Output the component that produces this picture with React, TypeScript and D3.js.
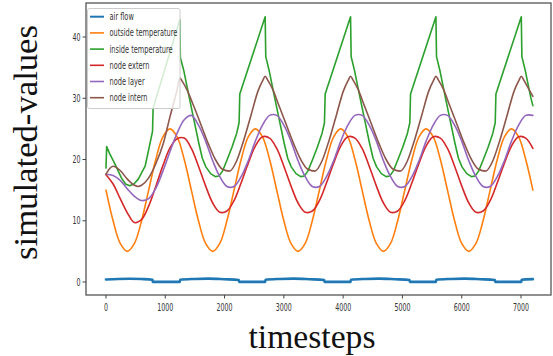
import React from "react";
import * as d3 from "d3";

const W = 553;
const H = 356;

const seriesNames = ["air flow", "outside temperature", "inside temperature", "node extern", "node layer", "node intern"];
const seriesColors = ["#1f77b4", "#ff7f0e", "#2ca02c", "#d62728", "#9467bd", "#8c564b"];

const xTicks = [0, 1000, 2000, 3000, 4000, 5000, 6000, 7000];
const yTicks = [0, 10, 20, 30, 40];

// regular grid for the smooth series (every 120 timesteps)
const gridT = d3.range(0, 7201, 120);

const outsideTemp = [
  15, 10, 6.3, 5, 6.3, 10, 15, 20, 23.7, 25, 23.7, 20,
  15, 10, 6.3, 5, 6.3, 10, 15, 20, 23.7, 25, 23.7, 20,
  15, 10, 6.3, 5, 6.3, 10, 15, 20, 23.7, 25, 23.7, 20,
  15, 10, 6.3, 5, 6.3, 10, 15, 20, 23.7, 25, 23.7, 20,
  15, 10, 6.3, 5, 6.3, 10, 15, 20, 23.7, 25, 23.7, 20,
  15,
];

const nodeExtern = [
  17.5, 16.0, 13.6, 11.3, 9.7, 10.2, 12.4, 15.6, 19.0, 21.9, 23.4,
  23.5, 21.8, 18.9, 15.7, 12.9, 11.4, 11.6, 13.3, 16.2, 19.4, 22.2, 23.7,
  23.5, 21.8, 18.9, 15.7, 12.9, 11.4, 11.6, 13.3, 16.2, 19.4, 22.2, 23.7,
  23.5, 21.8, 18.9, 15.7, 12.9, 11.4, 11.6, 13.3, 16.2, 19.4, 22.2, 23.7,
  23.5, 21.8, 18.9, 15.7, 12.9, 11.4, 11.6, 13.3, 16.2, 19.4, 22.2, 23.7,
  23.5, 21.8,
];

const nodeLayer = [
  17.6, 17.4, 16.6, 15.2, 14.0, 13.3, 13.6, 15.3, 18.1, 21.3, 24.3, 26.5,
  27.2, 25.6, 23.0, 19.8, 17.2, 15.6, 15.6, 17.2, 19.8, 23.0, 25.6, 27.2,
  27.2, 25.6, 23.0, 19.8, 17.2, 15.6, 15.6, 17.2, 19.8, 23.0, 25.6, 27.2,
  27.2, 25.6, 23.0, 19.8, 17.2, 15.6, 15.6, 17.2, 19.8, 23.0, 25.6, 27.2,
  27.2, 25.6, 23.0, 19.8, 17.2, 15.6, 15.6, 17.2, 19.8, 23.0, 25.6, 27.2,
  27.2,
];

const nodeInternT = [
  0, 60, 120, 240, 360, 480, 540, 600, 720, 840, 960, 1080, 1200,
  1245, 1285, 1365, 1485, 1605, 1725, 1845, 1965, 2085, 2205, 2325, 2445, 2565, 2645,
  2685, 2725, 2805, 2925, 3045, 3165, 3285, 3405, 3525, 3645, 3765, 3885, 4005, 4085,
  4125, 4165, 4245, 4365, 4485, 4605, 4725, 4845, 4965, 5085, 5205, 5325, 5445, 5525,
  5565, 5605, 5685, 5805, 5925, 6045, 6165, 6285, 6405, 6525, 6645, 6765, 6885, 6965,
  7005, 7045, 7125, 7200,
];
const nodeInternV = [
  17.6, 18.5, 18.9, 18.2, 16.8, 15.8, 15.6, 15.8, 17.0, 19.3, 22.4, 27.0, 31.4,
  33.3, 32.8, 31.4, 28.6, 25.6, 22.6, 20.0, 18.4, 18.1, 19.8, 23.2, 27.2, 31.2, 32.9,
  33.6, 33.0, 31.6, 28.6, 25.6, 22.6, 20.0, 18.4, 18.1, 19.8, 23.2, 27.2, 31.2, 32.9,
  33.6, 33.0, 31.6, 28.6, 25.6, 22.6, 20.0, 18.4, 18.1, 19.8, 23.2, 27.2, 31.2, 32.9,
  33.6, 33.0, 31.6, 28.6, 25.6, 22.6, 20.0, 18.4, 18.1, 19.8, 23.2, 27.2, 31.2, 32.9,
  33.6, 33.0, 31.6, 30.3,
];

const insideTempT = [
  0, 12, 60, 150, 260, 330, 400, 470, 545, 660, 740, 785, 795,
  1245, 1255, 1315, 1405, 1485, 1565, 1625, 1685, 1765, 1845, 1905, 1965, 2045, 2125, 2205, 2245, 2257,
  2685, 2695, 2755, 2845, 2925, 3005, 3065, 3125, 3205, 3285, 3345, 3405, 3485, 3565, 3645, 3685, 3697,
  4125, 4135, 4195, 4285, 4365, 4445, 4505, 4565, 4645, 4725, 4785, 4845, 4925, 5005, 5085, 5125, 5137,
  5565, 5575, 5635, 5725, 5805, 5885, 5945, 6005, 6085, 6165, 6225, 6285, 6365, 6445, 6525, 6565, 6577,
  7005, 7015, 7075, 7165, 7200,
];
const insideTempV = [
  18.6, 22.1, 21.0, 19.3, 17.0, 16.0, 15.7, 16.0, 16.8, 18.9, 22.5, 24.6, 28.4,
  42.8, 36.6, 34.4, 30.1, 26.4, 22.7, 20.2, 18.8, 17.7, 17.2, 17.3, 18.1, 20.0, 22.0, 24.3, 26.0, 30.7,
  43.3, 36.8, 34.4, 30.1, 26.4, 22.7, 20.2, 18.8, 17.7, 17.2, 17.3, 18.1, 20.0, 22.0, 24.3, 26.0, 30.7,
  43.3, 36.8, 34.4, 30.1, 26.4, 22.7, 20.2, 18.8, 17.7, 17.2, 17.3, 18.1, 20.0, 22.0, 24.3, 26.0, 30.7,
  43.3, 36.8, 34.4, 30.1, 26.4, 22.7, 20.2, 18.8, 17.7, 17.2, 17.3, 18.1, 20.0, 22.0, 24.3, 26.0, 30.7,
  43.3, 36.8, 34.4, 30.1, 28.8,
];

const airFlowT = [
  0, 200, 400, 600, 785, 790,
  1245, 1250, 1495, 1725, 1995, 2240, 2245,
  2685, 2690, 2935, 3165, 3435, 3680, 3685,
  4125, 4130, 4375, 4605, 4875, 5120, 5125,
  5565, 5570, 5815, 6045, 6315, 6560, 6565,
  7005, 7010, 7200,
];
const airFlowV = [
  0.42, 0.5, 0.53, 0.48, 0.36, 0.02,
  0.02, 0.38, 0.5, 0.55, 0.45, 0.32, 0.02,
  0.02, 0.38, 0.5, 0.55, 0.45, 0.32, 0.02,
  0.02, 0.38, 0.5, 0.55, 0.45, 0.32, 0.02,
  0.02, 0.38, 0.5, 0.55, 0.45, 0.32, 0.02,
  0.02, 0.38, 0.47,
];

const plot = { left: 86, right: 551, top: 3, bottom: 295 };

export default function App() {
  const x = d3.scaleLinear().domain([-337, 7506]).range([plot.left, plot.right]);
  const y = d3.scaleLinear().domain([-2.12, 45.55]).range([plot.bottom, plot.top]);

  const smooth = d3
    .line<[number, number]>()
    .x((d) => x(d[0]))
    .y((d) => y(d[1]))
    .curve(d3.curveCatmullRom.alpha(0.5));
  const mono = d3
    .line<[number, number]>()
    .x((d) => x(d[0]))
    .y((d) => y(d[1]))
    .curve(d3.curveMonotoneX);
  const linear = d3
    .line<[number, number]>()
    .x((d) => x(d[0]))
    .y((d) => y(d[1]));

  const zip = (t: number[], v: number[]) => t.map((ti, i) => [ti, v[i]] as [number, number]);

  const lines = [
    { d: mono(zip(airFlowT, airFlowV)), c: seriesColors[0], w: 2.6 },
    { d: smooth(zip(gridT, outsideTemp)), c: seriesColors[1], w: 1.6 },
    { d: linear(zip(insideTempT, insideTempV)), c: seriesColors[2], w: 1.6 },
    { d: smooth(zip(gridT, nodeExtern)), c: seriesColors[3], w: 1.6 },
    { d: smooth(zip(gridT, nodeLayer)), c: seriesColors[4], w: 1.6 },
    { d: mono(zip(nodeInternT, nodeInternV)), c: seriesColors[5], w: 1.6 },
  ];

  const sx = 0.63;
  const legendX = 87.5;
  const legendY = 8.5;
  const rowH = 16.2;

  return (
    <svg width={W} height={H} style={{ display: "block", position: "absolute", left: 0, top: 0, background: "#fff" }}>
      <rect x={0} y={0} width={W} height={H} fill="#fff" />
      <defs>
        <clipPath id="plotclip">
          <rect x={plot.left} y={plot.top} width={plot.right - plot.left} height={plot.bottom - plot.top} />
        </clipPath>
      </defs>
      <g clipPath="url(#plotclip)">
        {lines.map((l, i) => (
          <path key={i} d={l.d || ""} fill="none" stroke={l.c} strokeWidth={l.w} strokeLinejoin="round" strokeLinecap="round" />
        ))}
      </g>
      {/* frame */}
      <rect
        x={plot.left}
        y={plot.top}
        width={plot.right - plot.left}
        height={plot.bottom - plot.top}
        fill="none"
        stroke="#555"
        strokeWidth={1.3}
      />
      {/* x ticks */}
      {xTicks.map((t) => (
        <g key={"x" + t}>
          <line x1={x(t)} x2={x(t)} y1={plot.bottom} y2={plot.bottom + 3.5} stroke="#444" strokeWidth={1} />
          <text
            transform={`translate(${x(t)},${plot.bottom + 15.5}) scale(${sx},1)`}
            textAnchor="middle"
            fontFamily="DejaVu Sans"
            fontSize={10}
            fill="#333"
          >
            {t}
          </text>
        </g>
      ))}
      {/* y ticks */}
      {yTicks.map((t) => (
        <g key={"y" + t}>
          <line x1={plot.left - 3.5} x2={plot.left} y1={y(t)} y2={y(t)} stroke="#444" strokeWidth={1} />
          <text
            transform={`translate(${plot.left - 5.5},${y(t) + 3.6}) scale(${sx},1)`}
            textAnchor="end"
            fontFamily="DejaVu Sans"
            fontSize={10}
            fill="#333"
          >
            {t}
          </text>
        </g>
      ))}
      {/* legend */}
      <rect x={legendX} y={legendY} width={92.5} height={100} rx={2} ry={2} fill="#fff" fillOpacity={0.8} stroke="#ccc" strokeWidth={1} />
      {seriesNames.map((n, i) => {
        const cy = legendY + 8.2 + i * rowH;
        return (
          <g key={n}>
            <line x1={legendX + 2.5} x2={legendX + 16.5} y1={cy} y2={cy} stroke={seriesColors[i]} strokeWidth={i === 0 ? 2 : 1.6} />
            <text
              transform={`translate(${legendX + 22},${cy + 3.5}) scale(0.66,1)`}
              fontFamily="DejaVu Sans"
              fontSize={10}
              fill="#333"
            >
              {n}
            </text>
          </g>
        );
      })}
      {/* axis labels */}
      <text
        x={312}
        y={348}
        textAnchor="middle"
        fontFamily="Liberation Serif"
        fontSize={33}
        fill="#111"
        textLength={127}
        lengthAdjust="spacingAndGlyphs"
      >
        timesteps
      </text>
      <text
        transform={`translate(37,142.5) rotate(-90)`}
        textAnchor="middle"
        fontFamily="Liberation Serif"
        fontSize={33}
        fill="#111"
        textLength={235}
        lengthAdjust="spacingAndGlyphs"
      >
        simulated-values
      </text>
    </svg>
  );
}
